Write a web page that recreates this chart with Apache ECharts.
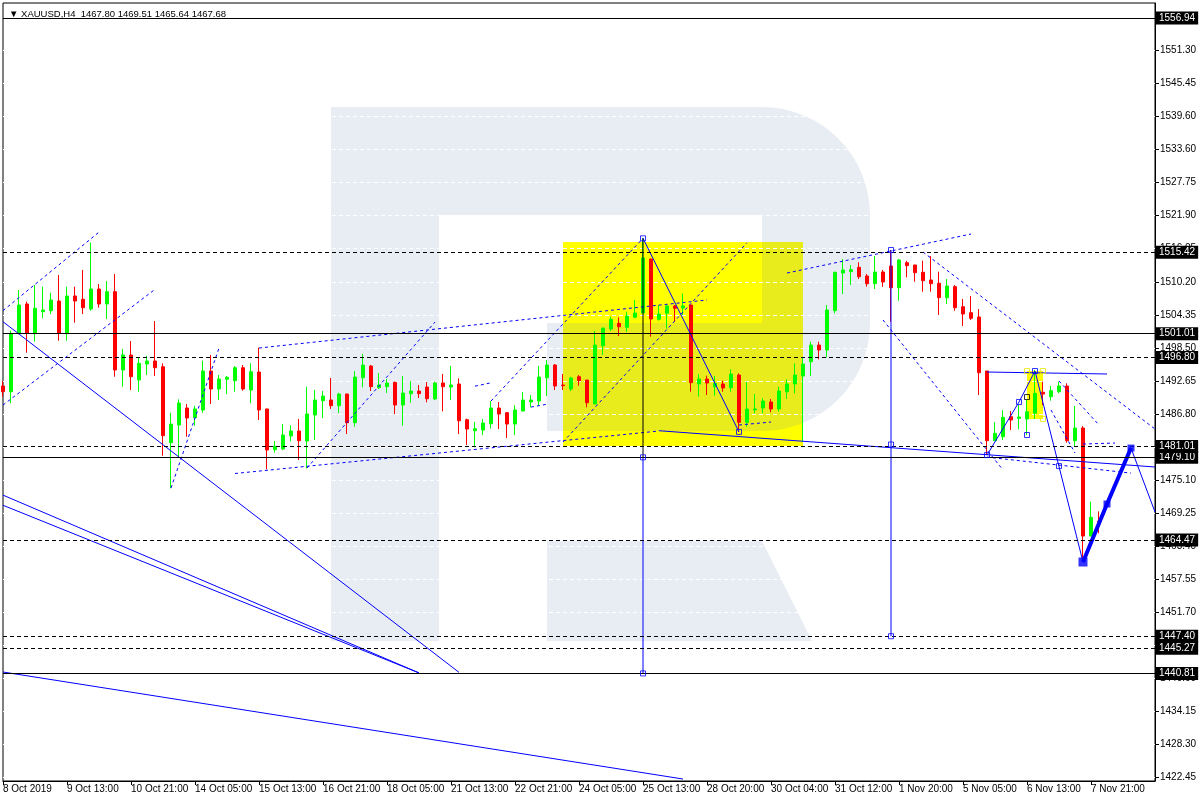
<!DOCTYPE html>
<html><head><meta charset="utf-8">
<script src="https://cdn.jsdelivr.net/npm/echarts@6/dist/echarts.min.js"></script>
<style>html,body{margin:0;padding:0;background:#fff}#c{width:1200px;height:800px}</style>
</head><body><div id="c"></div>
<script>
// ---------- DATA ----------
const sessions = [ // trading day, bar hours
  ['8 Oct',[5,9,13,17,21]],['9 Oct',[1,5,9,13,17,21]],['10 Oct',[1,5,9,13,17,21]],['11 Oct',[1,5,9,13,17,21]],
  ['14 Oct',[1,5,9,13,17,21]],['15 Oct',[1,5,9,13,17,21]],['16 Oct',[1,5,9,13,17,21]],['17 Oct',[1,5,9,13,17,21]],
  ['18 Oct',[1,5,9,13,17,21]],['21 Oct',[1,5,9,13,17,21]],['22 Oct',[1,5,9,13,17,21]],['23 Oct',[1,5,9,13,17,21]],
  ['24 Oct',[1,5,9,13,17,21]],['25 Oct',[1,5,9,13,17,21]],['28 Oct',[0,4,8,12,16,20]],['29 Oct',[0,4,8,12,16,20]],
  ['30 Oct',[0,4,8,12,16,20]],['31 Oct',[0,4,8,12,16,20]],['1 Nov',[0,4,8,12,16,20]],['4 Nov',[1,5,9,13,17,21]],
  ['5 Nov',[1,5,9,13,17,21]],['6 Nov',[1,5,9,13,17,21]],['7 Nov',[1,5,9,13,17,21]],['8 Nov',[1,5,9,13,17,21]],
  ['11 Nov',[1,5]]
];
const xTickLabels = ['8 Oct 2019','9 Oct 13:00','10 Oct 21:00','14 Oct 05:00','15 Oct 13:00','16 Oct 21:00',
  '18 Oct 05:00','21 Oct 13:00','22 Oct 21:00','24 Oct 05:00','25 Oct 13:00','28 Oct 20:00','30 Oct 04:00',
  '31 Oct 12:00','1 Nov 20:00','5 Nov 05:00','6 Nov 13:00','7 Nov 21:00'];
const yTicks = [1551.30,1545.45,1539.60,1533.60,1527.75,1521.90,1516.05,1510.20,1504.35,1498.50,1492.65,
  1486.80,1480.95,1475.10,1469.25,1463.40,1457.55,1451.70,1445.85,1440.00,1434.15,1428.30,1422.45];

const opens = [1491.73,1490.72,1501.07,1506.26,1501.07,1504.90,1505.07,1506.79,1501.07,1507.68,
 1507.09,1505.37,1508.92,1506.26,1508.44,1494.57,1497.22,1492.79,1495.63,1496.16,
 1495.15,1481.69,1484.82,1487.83,1486.11,1487.48,1494.39,1491.20,1492.92,1492.67,
 1494.97,1491.02,1494.21,1487.66,1480.45,1480.57,1482.87,1483.76,1481.99,1486.59,
 1489.13,1489.25,1488.24,1490.31,1485.23,1493.20,1495.27,1491.43,1491.61,1492.38,
 1488.36,1490.37,1490.84,1491.55,1489.43,1492.26,1491.55,1492.09,1485.76,1483.81,
 1483.93,1485.05,1487.83,1487.00,1484.99,1487.30,1488.90,1489.07,1493.20,1495.45,
 1491.91,1491.20,1493.38,1492.79,1488.54,1498.87,1501.83,1502.84,1502.13,1503.90,
 1504.66,1514.23,1503.55,1504.61,1505.91,1505.55,1506.08,1492.09,1492.97,1491.61,
 1492.09,1491.43,1493.68,1485.30,1487.50,1487.83,1488.90,1487.66,1490.72,1492.09,
 1493.50,1496.04,1498.99,1498.11,1505.07,1511.75,1511.99,1512.76,1511.22,1509.86,
 1511.93,1512.99,1509.15,1513.58,1513.17,1511.88,1510.51,1509.93,1507.38,1509.33,
 1505.78,1504.72,1503.96,1494.39,1482.04,1482.75,1486.29,1486.00,1485.88,1486.89,
 1490.62,1489.83,1490.72,1491.73,1482.04,1484.29,1465.15,1467.80];
const highs = [1492.62,1501.53,1508.74,1506.67,1509.63,1509.33,1508.26,1511.40,1509.33,1509.33,
 1512.28,1517.12,1509.80,1510.33,1511.58,1498.29,1499.70,1496.82,1497.10,1503.25,
 1495.75,1487.00,1489.37,1488.54,1488.24,1496.21,1497.22,1493.68,1493.50,1495.27,
 1495.45,1495.75,1498.52,1487.70,1482.00,1485.00,1484.77,1485.89,1491.61,1491.02,
 1490.84,1493.15,1490.54,1490.40,1494.39,1497.40,1495.45,1494.03,1492.97,1492.50,
 1493.50,1492.62,1491.91,1492.44,1492.50,1493.85,1495.27,1493.09,1485.94,1485.35,
 1485.89,1489.07,1488.90,1487.12,1488.31,1490.67,1490.13,1495.27,1496.34,1495.63,
 1493.85,1493.38,1493.68,1492.80,1501.48,1502.01,1504.01,1503.90,1504.90,1506.97,
 1517.90,1514.30,1506.08,1506.08,1506.08,1508.15,1506.10,1493.85,1493.56,1493.50,
 1492.67,1494.69,1493.98,1492.50,1490.31,1489.55,1489.43,1491.61,1492.92,1495.75,
 1496.69,1499.58,1499.58,1506.08,1512.00,1514.23,1513.17,1513.65,1511.58,1514.76,
 1512.30,1515.83,1514.23,1513.93,1513.20,1513.93,1514.76,1511.98,1510.69,1509.60,
 1507.15,1507.68,1505.37,1494.40,1485.30,1487.48,1487.30,1488.36,1489.25,1494.57,
 1492.50,1491.73,1492.50,1492.21,1488.19,1484.64,1471.23,1469.51];
const lows = [1489.83,1488.67,1500.90,1497.63,1499.58,1503.73,1504.49,1499.76,1499.76,1502.95,
 1504.49,1505.07,1505.60,1503.60,1493.38,1491.61,1491.02,1490.72,1493.68,1493.50,
 1479.38,1473.60,1479.20,1482.75,1484.70,1487.00,1488.54,1489.25,1490.31,1490.72,
 1490.90,1488.67,1485.71,1476.97,1479.91,1480.39,1481.93,1478.62,1477.15,1482.16,
 1486.06,1487.66,1486.95,1483.23,1484.52,1491.50,1490.84,1491.20,1490.49,1486.77,
 1484.70,1488.77,1489.60,1488.84,1489.25,1487.25,1489.25,1483.23,1481.28,1480.87,
 1483.05,1484.17,1484.11,1482.52,1483.05,1487.30,1487.96,1488.19,1489.96,1491.02,
 1491.02,1490.84,1491.79,1487.96,1488.54,1497.22,1501.48,1500.59,1501.35,1503.80,
 1504.60,1500.47,1503.30,1501.88,1503.12,1504.31,1490.72,1489.83,1490.13,1490.01,
 1490.72,1490.72,1483.60,1484.52,1486.89,1486.89,1487.07,1487.18,1489.43,1490.44,
 1481.86,1493.50,1496.46,1496.82,1504.61,1508.03,1509.63,1510.69,1509.33,1508.92,
 1509.30,1503.12,1506.85,1510.99,1510.21,1508.44,1508.44,1504.31,1506.26,1505.07,
 1502.36,1503.43,1490.13,1479.50,1482.00,1482.16,1483.93,1484.06,1483.05,1485.88,
 1488.36,1489.13,1490.44,1481.69,1480.98,1460.60,1465.10,1465.64];
const closes = [1490.72,1501.07,1506.08,1501.07,1505.50,1505.20,1506.97,1501.07,1507.68,1506.79,
 1505.60,1508.92,1506.26,1508.44,1494.57,1497.22,1493.38,1495.75,1496.16,1494.97,
 1482.93,1484.99,1488.72,1486.06,1487.66,1494.39,1491.20,1492.97,1493.27,1494.97,
 1491.20,1494.26,1487.48,1480.39,1481.05,1483.05,1483.76,1482.04,1486.77,1489.25,
 1489.96,1488.24,1490.31,1485.23,1493.32,1495.45,1491.61,1491.91,1492.26,1488.36,
 1490.49,1490.84,1490.37,1489.48,1492.26,1491.61,1491.91,1485.58,1484.11,1484.17,
 1485.17,1487.83,1486.77,1484.99,1487.48,1489.25,1489.25,1493.32,1495.45,1491.73,
 1491.79,1493.15,1492.67,1488.77,1498.99,1502.01,1503.55,1502.24,1504.13,1504.66,
 1514.41,1503.60,1504.49,1505.91,1505.50,1505.91,1492.32,1492.97,1492.26,1492.21,
 1491.38,1493.85,1485.30,1487.66,1487.66,1489.07,1487.66,1490.84,1492.09,1493.68,
 1495.63,1498.99,1498.11,1505.20,1511.88,1512.28,1512.34,1511.10,1509.86,1511.93,
 1510.16,1509.15,1514.06,1513.05,1511.81,1510.39,1509.86,1507.38,1509.45,1505.60,
 1504.49,1503.73,1494.09,1482.04,1483.35,1486.18,1485.71,1486.24,1487.18,1490.44,
 1490.31,1490.90,1491.73,1482.04,1484.29,1465.15,1468.47,1467.68];

const solidLevels = [1556.94, 1501.01, 1479.10, 1440.81];
const dashedLevels = [1515.42, 1496.80, 1481.01, 1464.47, 1447.40, 1445.27];
const lastPrice = 1467.68;

const bigYellowBox = [70, 1517.24, 100, 1481.10];
const smallYellowBox = [128, 1494.39, 130, 1485.88];

const blueSolidLines = [
  [[80,1517.90],[92,1483.60]],
  [[0,1503.12],[56.9,1441.00]],
  [[0,1472.40],[51.9,1440.90]],
  [[0,1470.60],[51.9,1440.90]],
  [[0,1441.06],[84.6,1422.10]],
  [[82.1,1483.81],[144,1477.38]],
  [[122.75,1494.21],[138,1493.86]],
  [[123,1479.49],[127,1488.90],[129,1494.39],[135,1460.55]],
  [[141,1480.74],[144,1469.41]],
  [[80,1479.10],[80,1440.81]],
  [[111,1515.83],[111,1447.40]]
];
const blueDashedLines = [
  [[0,1505.09],[12.1,1519.00]],
  [[0,1488.36],[19,1508.86]],
  [[21,1473.66],[26.75,1498.46]],
  [[28.75,1476.23],[82.1,1483.76]],
  [[31.9,1498.46],[87.9,1506.97]],
  [[37.75,1477.20],[53.75,1503.07]],
  [[61.1,1489.07],[80,1517.90]],
  [[70,1481.81],[93,1517.12]],
  [[92.1,1484.82],[96.1,1485.35]],
  [[59.4,1491.70],[61.25,1492.30]],
  [[65.6,1488.00],[67.5,1488.50]],
  [[97.9,1511.75],[120.9,1518.66]],
  [[110,1503.43],[125,1476.85]],
  [[115.25,1515.47],[144,1484.11]],
  [[132.4,1492.62],[137.1,1484.82]],
  [[130.9,1487.48],[134.25,1479.86]],
  [[134.6,1481.45],[139,1481.63]],
  [[123,1479.14],[141.1,1476.30]]
];
const blackLines = [ [[80,1517.90],[80,1479.10]] ];
const forecastThick = [[135,1460.55],[138,1470.82],[141,1480.74]];
const hollowSquares = [[80,1517.90],[92,1483.60],[80,1479.10],[80,1440.81],[111,1515.83],[111,1481.37],
  [111,1447.40],[123,1479.49],[127,1488.90],[129,1494.39],[132,1477.55],[128,1483.05]];
const blackSquares = [[128,1489.78]];
const filledSquares = [[138,1470.82],[141,1480.74]];
const bigSquares = [[135,1460.55]];
const yellowSquares = [[128,1494.39],[130,1494.39],[130,1485.88]];

// ---------- BUILD ----------
const categories = [];
sessions.forEach(([d, hs]) => hs.forEach(h => categories.push(d + ' ' + String(h).padStart(2,'0') + ':00')));
const candles = opens.map((o,k) => [o, closes[k], lows[k], highs[k]]);
const FONT = "'Liberation Sans',Arial,sans-serif";
const WM = '#e8edf4';
const WM_ON_YELLOW = '#e8eb1c';
const BLUE = '#0000ff';

// watermark logo outline (decoration only)
function arcPts(cx, cy, r, a0, a1, n) {
  const pts = [];
  for (let k = 0; k <= n; k++) { const a = a0 + (a1 - a0) * k / n; pts.push([cx + r * Math.cos(a), cy + r * Math.sin(a)]); }
  return pts;
}
const bowlPts = [[762,107], ...arcPts(762,215,108,-Math.PI/2,0,16), [870,323], ...arcPts(762,323,108,0,Math.PI/2,16),
  [762,431],[547,431],[547,323],[762,323],[762,215]];
// part of the watermark seen through the yellow box (tinted)
const tintPts = [[563,323],[762,323],[762,242],[803,242],
  ...arcPts(762,323,108,Math.acos(41/108),Math.PI/2,10), [563,431]];

function boxSeries(box, fill, z) {
  return { type:'custom', z:z, silent:true, data:[box], encode:{x:[0,2], y:[1,3]},
    renderItem:(params, api) => {
      const p1 = api.coord([api.value(0), api.value(1)]);
      const p2 = api.coord([api.value(2), api.value(3)]);
      return {type:'rect', shape:{x:p1[0], y:p1[1], width:p2[0]-p1[0], height:p2[1]-p1[1]}, style:{fill: fill}};
    }};
}
function linesSeries(list, style, z) {
  return { type:'lines', coordinateSystem:'cartesian2d', polyline:true, z:z, silent:true,
    data: list.map(c => ({coords:c})), lineStyle: style };
}

const levelLabel = {show:true, position:'end', distance:1, formatter: p => Number(p.value).toFixed(2),
  backgroundColor:'#000', color:'#fff', padding:[2,3,1,3], fontSize:10, fontFamily:FONT};

const option = {
  animation:false,
  backgroundColor:'#ffffff',
  title:{ text:'▼ XAUUSD,H4  1467.80 1469.51 1465.64 1467.68', left:4, top:4,
    textStyle:{fontSize:9.5, fontWeight:'normal', color:'#000', fontFamily:FONT} },
  graphic:{ elements:[
    {type:'rect', z:-10, silent:true, shape:{x:331,y:107,width:108,height:534}, style:{fill:WM}},
    {type:'rect', z:-10, silent:true, shape:{x:439,y:107,width:323,height:108}, style:{fill:WM}},
    {type:'polygon', z:-10, silent:true, shape:{points:bowlPts}, style:{fill:WM}},
    {type:'polygon', z:-10, silent:true, shape:{points:[[547,541],[762,541],[812,641],[547,641]]}, style:{fill:WM}},
    {type:'polygon', z:-0.5, silent:true, shape:{points:tintPts}, style:{fill:WM_ON_YELLOW}}
  ]},
  grid:{ left:3, right:45, top:3, bottom:19, show:true, borderColor:'#000', borderWidth:1, backgroundColor:'transparent' },
  xAxis:{ type:'category', data:categories, boundaryGap:false,
    axisLine:{show:true, lineStyle:{color:'#000', width:1}},
    axisTick:{show:true, length:4, interval:(i)=> i%8===0 && i<=136, lineStyle:{color:'#000'}},
    axisLabel:{interval:(i)=> i%8===0 && i<=136, formatter:(v,i)=> xTickLabels[i/8] || '', align:'left', margin:3,
      color:'#000', fontSize:10, fontFamily:FONT},
    splitLine:{show:false} },
  yAxis:{ type:'value', position:'right', min:1421.75, max:1559.59, scale:true,
    axisLine:{show:true, lineStyle:{color:'#000', width:1}},
    axisTick:{show:true, length:4, customValues:yTicks, lineStyle:{color:'#000'}},
    axisLabel:{customValues:yTicks, formatter:(v)=> Number(v).toFixed(2), color:'#000', fontSize:10, fontFamily:FONT, margin:5},
    splitLine:{show:true, lineStyle:{color:'#ffffff', width:1, type:[4,3]}} },
  series:[
    boxSeries(bigYellowBox, '#ffff00', -1),
    boxSeries(smallYellowBox, '#ffff00', -1),
    { type:'candlestick', z:3, data:candles, barWidth:4, clip:true,
      itemStyle:{color:'#00ff00', color0:'#ff0000', borderColor:'#00ff00', borderColor0:'#ff0000', borderWidth:1} },
    linesSeries(blueDashedLines, {color:BLUE, width:1, type:[3,3], opacity:1}, 4),
    linesSeries(blueSolidLines, {color:BLUE, width:1, type:'solid', opacity:1}, 4),
    linesSeries(blackLines, {color:'#000', width:1, type:'solid', opacity:1}, 4),
    linesSeries([forecastThick], {color:BLUE, width:4, type:'solid', opacity:1}, 4),
    { type:'scatter', z:5, silent:true, data:hollowSquares, symbol:'rect', symbolSize:5,
      itemStyle:{color:'rgba(0,0,0,0)', borderColor:BLUE, borderWidth:1} },
    { type:'scatter', z:5, silent:true, data:blackSquares, symbol:'rect', symbolSize:5,
      itemStyle:{color:'rgba(0,0,0,0)', borderColor:'#000', borderWidth:1} },
    { type:'scatter', z:5, silent:true, data:yellowSquares, symbol:'rect', symbolSize:5,
      itemStyle:{color:'rgba(0,0,0,0)', borderColor:'#e8e800', borderWidth:1} },
    { type:'scatter', z:5, silent:true, data:filledSquares, symbol:'rect', symbolSize:7, itemStyle:{color:BLUE} },
    { type:'scatter', z:5, silent:true, data:bigSquares, symbol:'rect', symbolSize:9, itemStyle:{color:BLUE} },
    { type:'line', z:6, data:[], silent:true,
      markLine:{ symbol:'none', silent:true, animation:false, label:levelLabel,
        data:[
          ...solidLevels.map(v => ({yAxis:v, lineStyle:{color:'#000', width:1, type:'solid'}})),
          ...dashedLevels.map(v => ({yAxis:v, lineStyle:{color:'#000', width:1, type:[4,3]}})),
          {yAxis:lastPrice, lineStyle:{opacity:0}}
        ]} }
  ]
};
const chart = echarts.init(document.getElementById('c'), null, {renderer:'canvas'});
chart.setOption(option);
</script>
</body></html>
